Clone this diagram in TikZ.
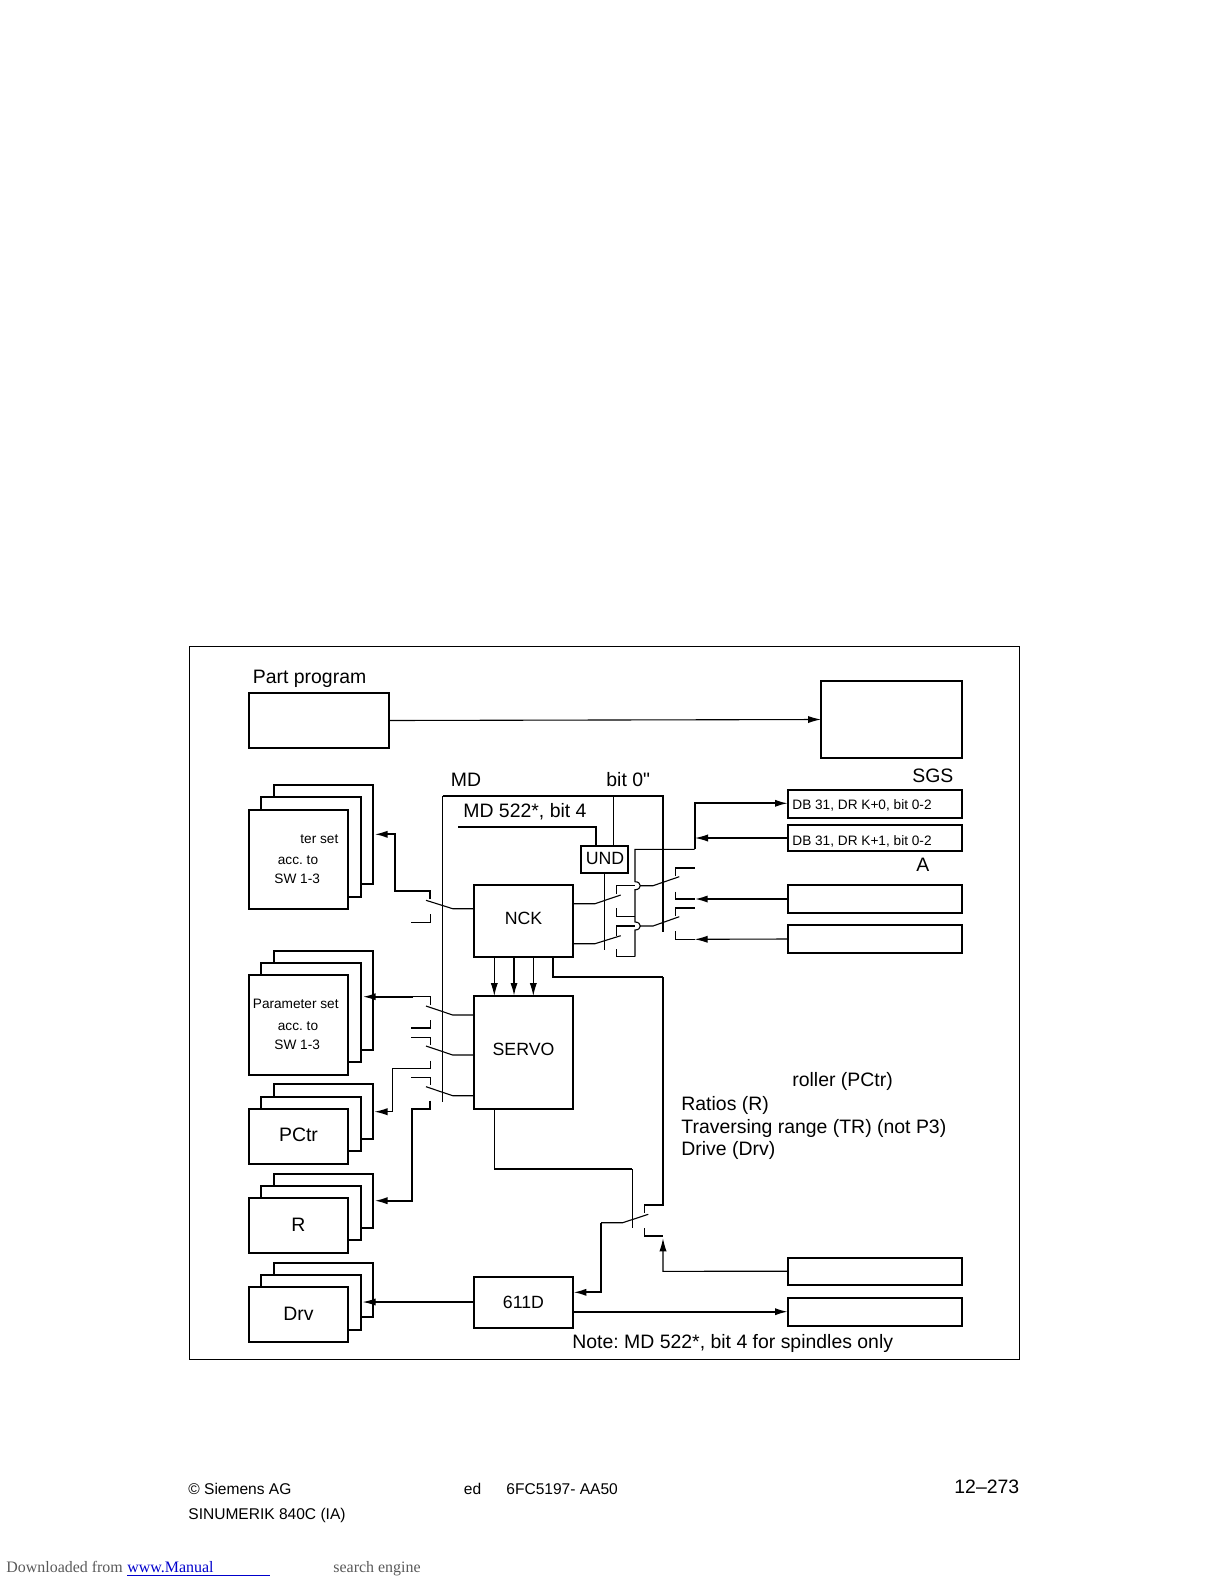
\documentclass[tikz,border=0pt]{standalone}
\usepackage{fontspec}
\setmainfont{Liberation Sans}
\newfontfamily\serifdl{Liberation Serif}
\newfontfamily\quotefont{Liberation Sans}
\usetikzlibrary{arrows.meta}
\AtBeginDocument{\frenchspacing}
\newcommand{\bx}[6][boxline]{\node[#1,anchor=north west,minimum width={(#5-#3)*0.5bp},minimum height={(#6-#4)*0.5bp}] (#2) at (#3,#4) {};}
\newcommand{\stack}[8]{% name, y tops (3), bottoms (3), unused
\bx{#1c}{274}{#2}{372.7}{#5}
\bx{#1b}{261}{#3}{360.7}{#6}
\bx{#1a}{248.7}{#4}{348.3}{#7}}
\tikzset{
 boxline/.style={draw=black,fill=white,line width=1bp,inner sep=0pt,outer sep=0pt},
 thin box/.style={draw=black,line width=.5bp,inner sep=0pt,outer sep=0pt},
 wire/.style={draw=black,line width=.55bp},
 heavy/.style={draw=black,line width=.95bp},
 arr/.style={-{Latex[length=6.5bp,width=3.6bp]}},
 big/.style={font=\fontsize{9.75}{12}\selectfont,inner sep=0pt,anchor=base west},
 mid/.style={font=\fontsize{8.9}{11}\selectfont,inner sep=0pt,anchor=base west},
 small/.style={font=\fontsize{6.85}{8}\selectfont,inner sep=0pt,anchor=base west},
 tiny/.style={font=\fontsize{6.85}{8}\selectfont,inner sep=0pt,anchor=base west},
 foot/.style={font=\fontsize{7.8}{10}\selectfont,inner sep=0pt,anchor=base west},
 dl/.style={font=\serifdl\fontsize{8}{10}\selectfont,inner sep=0pt,anchor=base west,text=black!65},
}
\begin{document}
\begin{tikzpicture}[x=0.5bp,y=-0.5bp]
\useasboundingbox (0,0) rectangle (1224,1584);
% frame
\bx[thin box]{frame}{189}{646.5}{1019}{1359}
% top boxes
\bx{prog}{248.5}{693}{389}{748}
\bx{sgsbox}{821}{681}{962}{758}
\draw[wire,arr] (prog.east) -- (sgsbox.west);
% right boxes
\bx{db0}{788}{790}{962}{818}
\bx{db1}{788}{825}{962}{851}
\bx{a0}{788}{885}{962}{913}
\bx{a1}{788}{925}{962}{953}
\bx{o0}{788}{1257.5}{962}{1285}
\bx{o1}{788}{1298}{962}{1326}
% stacks
\stack{pa}{785}{797.3}{810}{884}{896.7}{908.7}{}
\stack{pb}{951}{963.3}{975}{1049.7}{1061.7}{1075}{}
\stack{pc}{1084.3}{1097}{1109}{1139}{1151}{1163.7}{}
\stack{pd}{1173.7}{1186}{1197.7}{1227.7}{1240.3}{1253}{}
\stack{pe}{1263}{1275}{1287}{1317}{1329.7}{1342}{}
% MD wiring
\coordinate (mdl) at (442.7,1101.7);
\coordinate (mdr) at (663,932);
\draw[wire] (mdl) -- (442.7,795.7);
\draw[heavy] (442.7,795.7) -- (663,795.7) -- (mdr);
% main boxes
\bx{nck}{473.7}{885}{573.3}{957}
\bx{servo}{473.7}{996}{573.3}{1109}
\bx{und}{580.7}{845.7}{628}{873}
\bx{drv}{473.7}{1277.3}{573.3}{1328}
% UND inputs
\coordinate (ul) at (458,826.7);
\draw[heavy] (ul) -- (595.7,826.7) -- (595.7,845.7);
\draw[wire] (613.7,795.7) -- (613.7,845.7);
\coordinate (ub) at (604.7,950);
\draw[wire] (604.7,873) -- (ub);
% NCK to SERVO
\draw[wire,arr] (494.3,957) -- (494.3,996);
\draw[heavy,arr] (514,957) -- (514,996);
\draw[wire,arr] (533.3,957) -- (533.3,996);
% left switches
\draw[wire] (nck.west |- 0,908.7) -- (452.7,908.7) -- (426,900.3);
\draw[heavy,arr] (430.3,899) -- (430.3,891) -- (395,891) -- (395,834.3) -- (374.5,834.3);
\draw[wire] (430.3,914.3) -- (430.3,922.3) -- (411.3,922.3);
\draw[wire] (servo.west |- 0,1015) -- (452.7,1015) -- (426,1006);
\draw[wire] (430.3,1005) -- (430.3,996.7) -- (413,996.7);
\draw[heavy,arr] (413,996.7) -- (362.7,996.7);
\draw[wire] (430.3,1020) -- (430.3,1028) -- (411.3,1028);
\draw[wire] (411.3,1037.3) -- (430.3,1037.3) -- (430.3,1045);
\draw[wire] (servo.west |- 0,1055) -- (452.7,1055) -- (426,1046);
\draw[wire,arr] (430.3,1060.7) -- (430.3,1068.3) -- (392.3,1068.3) -- (392.3,1111.7) -- (374.5,1111.7);
\draw[wire] (411.3,1077.3) -- (430.3,1077.3) -- (430.3,1085);
\draw[wire] (servo.west |- 0,1095.7) -- (452.7,1095.7) -- (426,1086.7);
\draw[heavy,arr] (430.3,1100.7) -- (430.3,1109) -- (412,1109) -- (412,1200.7) -- (374.5,1200.7);
% right switches
\draw[wire] (nck.east |- 0,903.7) -- (595,903.7) -- (620.7,895);
\draw[wire] (nck.east |- 0,943.7) -- (595,943.7) -- (620.7,935.7);
\draw[wire] (616.7,894) -- (616.7,885.7) -- (635,885.7);
\draw[wire] (640,885.7) -- (653,885.7) -- (679.3,876.7);
\draw[wire] (616.7,908.3) -- (616.7,916.7) -- (635,916.7);
\draw[wire] (616.7,935.7) -- (616.7,926) -- (635,926);
\draw[wire] (640,926) -- (653,926) -- (679.3,916.7);
\draw[wire] (616.7,949) -- (616.7,956.7) -- (635,956.7);
\draw[wire] (694.7,849.3) -- (635,849.3) -- (635,881.7)
  .. controls (642,881.7) and (642,889.7) .. (635,889.7) -- (635,922)
  .. controls (642,922) and (642,930) .. (635,930) -- (635,956.7);
\draw[heavy,arr] (694.7,849.3) -- (694.7,803.3) -- (db0.west |- 0,803.3);
\draw[wire,arr] (db1.west |- 0,838) -- (695,838);
\draw[wire] (675.3,875.5) -- (675.3,868) -- (694.7,868);
\draw[wire] (675.3,891.7) -- (675.3,899) -- (694.7,899);
\draw[heavy,arr] (a0.west) -- (694.7,899);
\draw[wire] (675.3,915.7) -- (675.3,908) -- (694.7,908);
\draw[wire] (675.3,931) -- (675.3,939.3) -- (694.7,939.3);
\draw[wire,arr] (a1.west) -- (694.7,939.3);
% bottom wiring
\draw[heavy] (552.7,957) -- (552.7,977) -- (663,977);
\draw[wire] (663,977) -- (663,1205) -- (644.3,1205) -- (644.3,1213.3);
\draw[wire] (494.3,1109) -- (494.3,1169);
\draw[heavy] (494.3,1169) -- (632.3,1169);
\draw[wire] (632.3,1169) -- (632.3,1228.3);
\draw[wire] (648.3,1214.3) -- (622.7,1222.7) -- (601,1222.7);
\draw[heavy,arr] (601,1222.7) -- (601,1292.3) -- (drv.east |- 0,1292.3);
\draw[wire] (644.3,1228.3) -- (644.3,1236) -- (663,1236);
\draw[wire,arr] (o0.west) -- (663,1271.3) -- (663,1238.3);
\draw[heavy,arr] (drv.east |- 0,1311.7) -- (o1.west |- 0,1311.7);
\draw[wire,arr] (drv.west |- 0,1302) -- (362.7,1302);
% texts
\node[big] (t1) at (252.5,683) {Part program};
\node[big] (t2) at (450.5,786) {MD};
\node[big] (t3) at (606,786) {bit 0{\quotefont\char34}};
\node[big] (t4) at (463,817) {MD 522*, bit 4};
\node[big] (t5) at (912,782.5) {SGS};
\node[big] (t6) at (916,871.5) {A};
\node[tiny] (t7) at (792,809) {DB 31, DR K+0, bit 0-2};
\node[tiny] (t8) at (792,845) {DB 31, DR K+1, bit 0-2};
\node[small] (t9) at (300,843) {ter set};
\node[small] (t10) at (277.5,864) {acc. to};
\node[small] (t11) at (274,883) {SW 1-3};
\node[small] (t12) at (252.5,1008) {Parameter set};
\node[small] (t13) at (277.5,1030) {acc. to};
\node[small] (t14) at (274,1049.5) {SW 1-3};
\node[mid,anchor=center] (t15) at (523.5,918) {NCK};
\node[mid,anchor=center] (t16) at (523.5,1049) {SERVO};
\node[mid,anchor=center] (t17) at (605,858) {UND};
\node[mid,anchor=center] (t18) at (523.5,1302.5) {611D};
\node[big,anchor=center] (t19) at (298.5,1134.5) {PCtr};
\node[big,anchor=center] (t20) at (298.5,1224.5) {R};
\node[big,anchor=center] (t21) at (298.5,1313.5) {Drv};
\node[big] (t22) at (792,1086) {roller (PCtr)};
\node[big] (t23) at (681,1110) {Ratios (R)};
\node[big] (t24) at (681,1133) {Traversing range (TR) (not P3)};
\node[big] (t25) at (681,1155.5) {Drive (Drv)};
\node[big] (t26) at (572,1348) {Note: MD 522*, bit 4 for spindles only};
\node[foot] (t27) at (188,1494) {© Siemens AG};
\node[foot] (t28) at (188,1519) {SINUMERIK 840C (IA)};
\node[foot] (t29) at (463.5,1494) {ed};
\node[foot] (t30) at (506,1494) {6FC5197- AA50};
\node[big] (t31) at (954,1493.5) {12–273};
\node[dl] (t32) at (6,1572) {Downloaded from};
\node[dl,text=blue!80!black] (t33) at (127,1572) {www.Manual};
\node[dl] (t34) at (333,1572) {search engine};
\coordinate (ula) at (127,1575.5);
\coordinate (ulb) at (269.5,1575.5);
\draw[blue!80!black,line width=.6bp] (ula) -- (ulb);
\end{tikzpicture}
\end{document}
